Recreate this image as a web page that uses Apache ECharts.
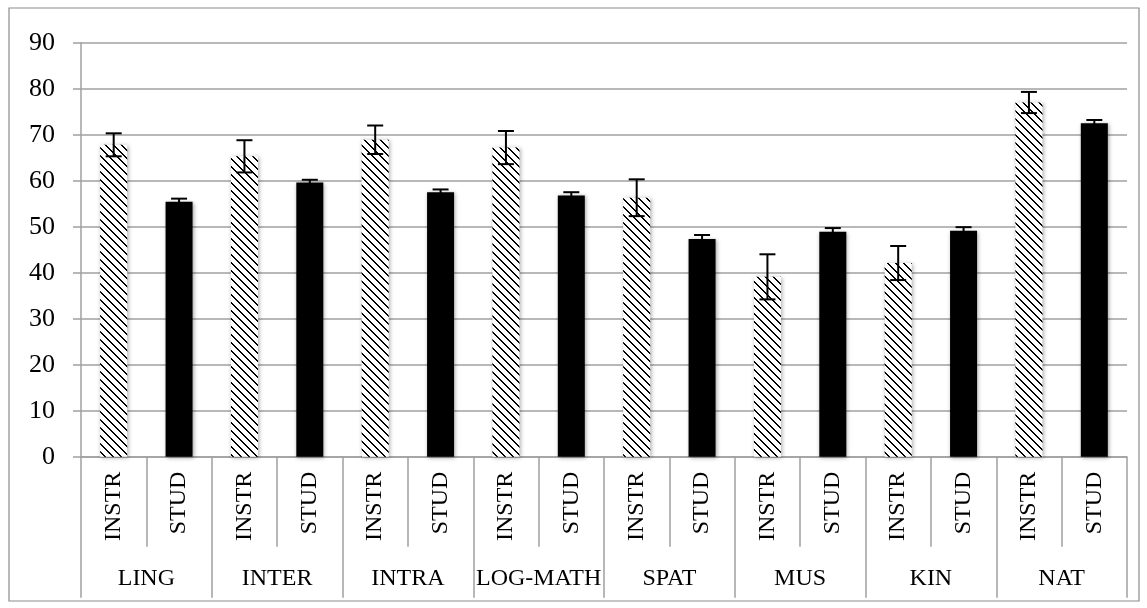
<!DOCTYPE html>
<html>
<head>
<meta charset="utf-8">
<script src="https://cdn.jsdelivr.net/npm/echarts@6/dist/echarts.min.js"></script>
<style>
html,body{margin:0;padding:0;background:#fff;}
#chart{width:1147px;height:608px;}
</style>
</head>
<body>
<div id="chart"></div>
<script>
// ---- data ----
const groups = ['LING', 'INTER', 'INTRA', 'LOG-MATH', 'SPAT', 'MUS', 'KIN', 'NAT'];
const subLabels = ['INSTR', 'STUD'];
const instrValues = [67.8, 65.3, 68.9, 67.2, 56.3, 39.1, 42.1, 77.0];
const instrErrors = [2.5, 3.5, 3.1, 3.6, 4.0, 4.9, 3.7, 2.3];
const studValues = [55.4, 59.6, 57.5, 56.8, 47.3, 48.9, 49.1, 72.5];
const studErrors = [0.7, 0.6, 0.6, 0.7, 0.9, 0.8, 0.8, 0.7];
const yTicks = [0, 10, 20, 30, 40, 50, 60, 70, 80, 90];

// ---- hatch pattern (\\\ diagonal) ----
function makeHatch() {
  const c = document.createElement('canvas');
  c.width = 8; c.height = 8;
  const ctx = c.getContext('2d');
  ctx.fillStyle = '#ffffff';
  ctx.fillRect(0, 0, 8, 8);
  ctx.fillStyle = '#000000';
  for (let k = 0; k < 8; k++) {
    ctx.fillRect(k, k, 1, 1);
    ctx.fillRect((k + 1) % 8, k, 1, 1);
  }
  return c;
}
const hatch = { image: makeHatch(), repeat: 'repeat' };

// ---- build ----
const cats = [];
const barData = [];
const errData = [];
groups.forEach((g, i) => {
  cats.push(g + '|' + subLabels[0]);
  cats.push(g + '|' + subLabels[1]);
  barData.push({ value: instrValues[i], itemStyle: { color: hatch } });
  barData.push({ value: studValues[i], itemStyle: { color: '#000000' } });
  errData.push([2 * i, instrValues[i], instrErrors[i]]);
  errData.push([2 * i + 1, studValues[i], studErrors[i]]);
});

const FONT = 'Liberation Serif';
const GRAY = '#a0a0a0';

const chart = echarts.init(document.getElementById('chart'));
chart.setOption({
  animation: false,
  backgroundColor: '#ffffff',
  graphic: [{
    type: 'rect',
    shape: { x: 9, y: 8, width: 1130, height: 593 },
    style: { fill: 'none', stroke: '#8c8c8c', lineWidth: 1.2 },
    z: -1
  }],
  grid: { left: 81, right: 20, top: 42.7, bottom: 151.3, containLabel: false },
  xAxis: [{
    type: 'category',
    data: cats,
    position: 'bottom',
    axisLine: { show: true, lineStyle: { color: GRAY, width: 1.5 } },
    axisTick: { show: true, interval: 0, length: 90, lineStyle: { color: GRAY, width: 1.5 } },
    axisLabel: {
      interval: 0, rotate: 90, margin: 15,
      fontFamily: FONT, fontSize: 24, color: '#000',
      formatter: v => v.split('|')[1]
    },
    splitLine: { show: false }
  }, {
    type: 'category',
    data: groups,
    position: 'bottom',
    offset: 90,
    axisLine: { show: false },
    axisTick: { show: true, interval: 0, length: 51, lineStyle: { color: GRAY, width: 1.5 } },
    axisLabel: { interval: 0, margin: 20, fontFamily: FONT, fontSize: 24, color: '#000' },
    splitLine: { show: false }
  }],
  yAxis: {
    type: 'value',
    min: 0, max: 90, interval: 10,
    axisLine: { show: true, lineStyle: { color: GRAY, width: 1.5 } },
    axisTick: { show: true, length: 8, lineStyle: { color: GRAY, width: 1.5 } },
    axisLabel: {
      margin: 26, fontFamily: FONT, fontSize: 26, color: '#000',
      formatter: v => (yTicks.indexOf(v) >= 0 ? String(v) : '')
    },
    splitLine: { show: true, lineStyle: { color: GRAY, width: 1.5 } }
  },
  series: [{
    type: 'bar',
    xAxisIndex: 0,
    data: barData,
    barWidth: 27,
    itemStyle: {
      shadowBlur: 4, shadowColor: 'rgba(0,0,0,0.35)', shadowOffsetX: 1, shadowOffsetY: 1
    },
    z: 2
  }, {
    type: 'custom',
    xAxisIndex: 0,
    data: errData,
    encode: { x: 0, y: 1 },
    z: 3,
    renderItem: function (params, api) {
      const idx = api.value(0);
      const v = api.value(1);
      const e = api.value(2);
      const top = api.coord([idx, v + e]);
      const bot = api.coord([idx, v - e]);
      const x = top[0];
      const hw = 8;
      const style = { stroke: '#000', lineWidth: 2 };
      return {
        type: 'group',
        children: [
          { type: 'line', shape: { x1: x, y1: top[1], x2: x, y2: bot[1] }, style },
          { type: 'line', shape: { x1: x - hw, y1: top[1], x2: x + hw, y2: top[1] }, style },
          { type: 'line', shape: { x1: x - hw, y1: bot[1], x2: x + hw, y2: bot[1] }, style }
        ]
      };
    }
  }]
});
</script>
</body>
</html>
